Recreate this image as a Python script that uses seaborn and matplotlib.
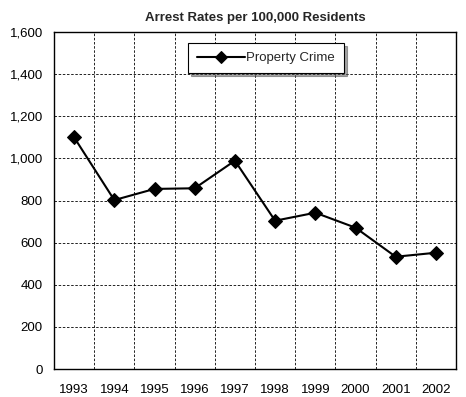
import matplotlib
matplotlib.use("Agg")
import matplotlib.pyplot as plt
import seaborn as sns
import pandas as pd
import numpy as np
from matplotlib.ticker import FuncFormatter, FixedLocator

years = ["1993", "1994", "1995", "1996", "1997", "1998", "1999", "2000", "2001", "2002"]
property_crime = [1100, 802, 855, 858, 989, 704, 742, 671, 533, 552]
series_name = "Property Crime"

sns.set_style("white")
plt.rcParams['font.family'] = ['Liberation Sans', 'DejaVu Sans']

df = pd.DataFrame({"Year": years, "Rate": property_crime, "Series": series_name})
df["pos"] = np.arange(len(years))

fig = plt.figure(figsize=(4.66, 3.97), dpi=100)
ax = fig.add_axes([54/466, 1-369/397, 402/466, 337/397])

sns.lineplot(data=df, x="pos", y="Rate", hue="Series", palette=["black"], marker="D",
             markersize=7, markeredgecolor="black", linewidth=1.5, ax=ax, legend=True)

ax.set_xlim(-0.5, len(years) - 0.5)
ax.set_ylim(0, 1600)
ax.set_xticks(np.arange(len(years)))
ax.set_xticklabels(years)
ax.xaxis.set_minor_locator(FixedLocator(np.arange(len(years) - 1) + 0.5))
ax.set_yticks(np.arange(0, 1601, 200))
ax.yaxis.set_major_formatter(FuncFormatter(lambda v, p: f"{int(v):,}"))
ax.grid(False)
ax.grid(True, which="minor", axis="x", color="black", linestyle=(0, (3, 2)), linewidth=0.6)
ax.grid(True, which="major", axis="y", color="black", linestyle=(0, (3, 2)), linewidth=0.6)
ax.tick_params(axis="both", which="both", length=0, labelsize=9.5, colors="black")
ax.tick_params(axis="x", pad=11)
ax.tick_params(axis="y", pad=8)
for s in ax.spines.values():
    s.set_color("black")
    s.set_linewidth(1.0)
ax.set_xlabel("")
ax.set_ylabel("")
ax.set_title("Arrest Rates per 100,000 Residents", fontsize=9.5, fontweight="bold", pad=8)

leg = ax.legend(loc="upper center", bbox_to_anchor=(0.527, 0.968), frameon=True, fancybox=False,
                shadow=True, fontsize=9.5, handlelength=3.6, handletextpad=0.1, borderpad=0.7,
                edgecolor="black", borderaxespad=0)
leg.get_frame().set_linewidth(0.8)
for h in leg.legend_handles:
    h.set_markersize(6)

fig.savefig("out.png", dpi=100)
